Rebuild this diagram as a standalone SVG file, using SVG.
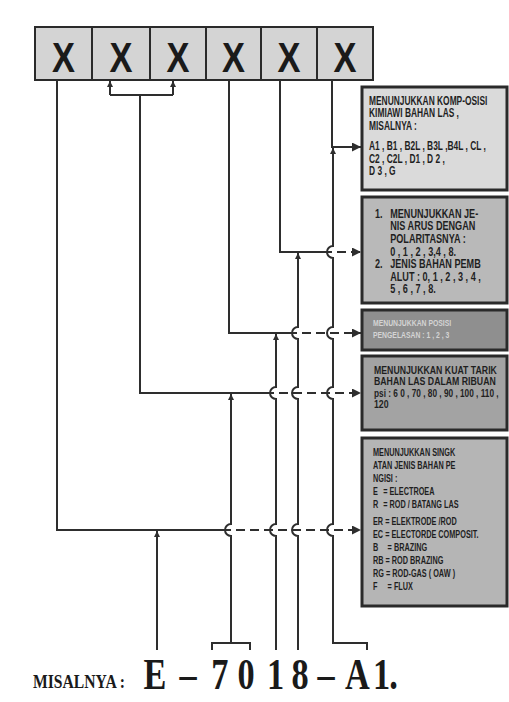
<svg xmlns="http://www.w3.org/2000/svg" width="509" height="702" viewBox="0 0 509 702">
<style>
.xb{fill:#d4d4d4;stroke:#2a2a2a;stroke-width:2}
.tb{stroke:#2a2a2a;stroke-width:3}
.ln{fill:none;stroke:#2e2e2e;stroke-width:2}
.dash{stroke-dasharray:9 5}
.bt{font-family:"Liberation Sans",Arial,sans-serif;font-weight:bold;fill:#1f1f1f}
.xt{font-family:"Liberation Sans",Arial,sans-serif;font-weight:bold;font-size:42px;fill:#1a1a1a}
.serif{font-family:"Liberation Serif","Times New Roman",serif;font-weight:bold;fill:#1a1a1a}
</style>
<defs>
<marker id="ab" viewBox="0 0 10 10" refX="10" refY="5" markerWidth="10" markerHeight="9" markerUnits="userSpaceOnUse" orient="auto">
<path d="M0,0 L10,5 L0,10 z" fill="#2e2e2e"/>
</marker>
<marker id="as" viewBox="0 0 10 10" refX="10" refY="5" markerWidth="7" markerHeight="6" markerUnits="userSpaceOnUse" orient="auto">
<path d="M0,0 L10,5 L0,10 z" fill="#2e2e2e"/>
</marker>
</defs>
<rect width="509" height="702" fill="#ffffff"/>

<g id="code">
<rect class="xb" x="35" y="27" width="57" height="53"/>
<rect class="xb" x="92" y="27" width="58" height="53"/>
<rect class="xb" x="150" y="27" width="56" height="53"/>
<rect class="xb" x="206" y="27" width="55" height="53"/>
<rect class="xb" x="261" y="27" width="56" height="53"/>
<rect class="xb" x="317" y="27" width="56" height="53"/>
<g transform="translate(63.5,72) scale(0.82,1)"><text class="xt" x="0" y="0" text-anchor="middle">X</text></g>
<g transform="translate(121,72) scale(0.82,1)"><text class="xt" x="0" y="0" text-anchor="middle">X</text></g>
<g transform="translate(178,72) scale(0.82,1)"><text class="xt" x="0" y="0" text-anchor="middle">X</text></g>
<g transform="translate(233.5,72) scale(0.82,1)"><text class="xt" x="0" y="0" text-anchor="middle">X</text></g>
<g transform="translate(289,72) scale(0.82,1)"><text class="xt" x="0" y="0" text-anchor="middle">X</text></g>
<g transform="translate(345,72) scale(0.82,1)"><text class="xt" x="0" y="0" text-anchor="middle">X</text></g>
</g>

<g id="box1">
<rect class="tb" x="362" y="87" width="145" height="103" fill="#dadada"/>
<g class="bt" font-size="12" transform="translate(369,0) scale(0.7,1)">
<text x="0" y="105">MENUNJUKKAN KOMP-OSISI</text>
<text x="0" y="117.5">KIMIAWI BAHAN  LAS   ,</text>
<text x="0" y="130">MISALNYA :</text>
<text x="0" y="150.5">A1 , B1 , B2L , B3L ,B4L , CL ,</text>
<text x="0" y="163">C2 , C2L , D1 , D 2 ,</text>
<text x="0" y="175.5">D 3 , G</text>
</g>
</g>

<g id="box2">
<rect class="tb" x="362" y="197" width="145" height="106" fill="#b9b9b9"/>
<g class="bt" font-size="12" transform="translate(375,0) scale(0.76,1)">
<text x="0" y="218">1.</text>
<text x="20" y="218">MENUNJUKKAN  JE-</text>
<text x="20" y="230.5">NIS ARUS DENGAN</text>
<text x="20" y="243">POLARITASNYA :</text>
<text x="20" y="256">0 , 1 , 2 , 3,4 , 8.</text>
<text x="0" y="268.5">2.</text>
<text x="20" y="268.5">JENIS BAHAN PEMB</text>
<text x="20" y="281">ALUT : 0, 1 , 2 , 3 , 4 ,</text>
<text x="20" y="293.5">5 , 6 , 7 , 8.</text>
</g>
</g>

<g id="box3">
<rect class="tb" x="362" y="310" width="145" height="40" fill="#8f8f8f"/>
<g class="bt" font-size="9.5" transform="translate(373,0) scale(0.72,1)">
<text x="0" y="326" style="fill:#d4d4d4">MENUNJUKKAN POSISI</text>
<text x="0" y="338" style="fill:#d4d4d4">PENGELASAN : 1 , 2 , 3</text>
</g>
</g>

<g id="box4">
<rect class="tb" x="362" y="356" width="145" height="74" fill="#a3a3a3"/>
<g class="bt" font-size="11.5" transform="translate(374,0) scale(0.76,1)">
<text x="0" y="374">MENUNJUKKAN KUAT TARIK</text>
<text x="0" y="385.5">BAHAN LAS DALAM RIBUAN</text>
<text x="0" y="397" textLength="164" lengthAdjust="spacingAndGlyphs">psi : 6 0 , 70 , 80 , 90 , 100 , 110 ,</text>
<text x="0" y="408.5">120</text>
</g>
</g>

<g id="box5">
<rect class="tb" x="362" y="438" width="145" height="168" fill="#b5b5b5"/>
<g class="bt" font-size="10" transform="translate(373,0) scale(0.73,1)">
<text x="0" y="456">MENUNJUKKAN SINGK</text>
<text x="0" y="469">ATAN JENIS BAHAN PE</text>
<text x="0" y="482">NGISI :</text>
<text x="0" y="495">E <tspan x="14">= ELECTROEA</tspan></text>
<text x="0" y="508">R <tspan x="14">= ROD / BATANG   LAS</tspan></text>
<text x="0" y="525">ER = ELEKTRODE /ROD</text>
<text x="0" y="538">EC = ELECTORDE COMPOSIT.</text>
<text x="0" y="551">B <tspan x="20">=  BRAZING</tspan></text>
<text x="0" y="564">RB = ROD BRAZING</text>
<text x="0" y="577">RG = ROD-GAS ( OAW )</text>
<text x="0" y="590">F <tspan x="20">=  FLUX</tspan></text>
</g>
</g>

<g id="connectors">
<path class="ln" d="M57,80 V530 H222"/>
<path class="ln dash" d="M222,530 H361" marker-end="url(#ab)"/>
<path class="ln" d="M110,95 H173"/>
<path class="ln" d="M110,95 V81" marker-end="url(#as)"/>
<path class="ln" d="M173,95 V81" marker-end="url(#as)"/>
<path class="ln" d="M140,95 V393 H265"/>
<path class="ln dash" d="M265,393 H361" marker-end="url(#ab)"/>
<path class="ln" d="M229,80 V333 H288"/>
<path class="ln dash" d="M288,333 H361" marker-end="url(#ab)"/>
<path class="ln" d="M280,80 V252 H323"/>
<path class="ln dash" d="M323,252 H361" marker-end="url(#ab)"/>
<path class="ln" d="M332,80 V147 H361" marker-end="url(#ab)"/>
<path class="ln" d="M157,650 V531" marker-end="url(#as)"/>
<path class="ln" d="M212,650 V643 H250 V650"/>
<path class="ln" d="M231,643 V536 A6,6 0 0 1 231,524 V394" marker-end="url(#as)"/>
<path class="ln" d="M276,650 V536 A6,6 0 0 1 276,524 V399 A6,6 0 0 1 276,387 V334" marker-end="url(#as)"/>
<path class="ln" d="M298,650 V536 A6,6 0 0 1 298,524 V399 A6,6 0 0 1 298,387 V339 A6,6 0 0 1 298,327 V253" marker-end="url(#as)"/>
<path class="ln" d="M367,650 V643 H333 V536 A6,6 0 0 1 333,524 V399 A6,6 0 0 1 333,387 V339 A6,6 0 0 1 333,327 V258 A6,6 0 0 1 333,246 V148" marker-end="url(#as)"/>
</g>

<g id="example">
<text class="serif" x="33" y="688" font-size="18" textLength="92" lengthAdjust="spacingAndGlyphs">MISALNYA :</text>
<g transform="scale(0.78,1)">
<text class="serif" y="689" font-size="44" text-anchor="middle" x="198.7 219.9 241 262.8 282 315.4 353.2 384.6 400.6 417.9 434 458.3 489.1 504.5">E – 7018 – A1.</text>
</g>
</g>
</svg>
